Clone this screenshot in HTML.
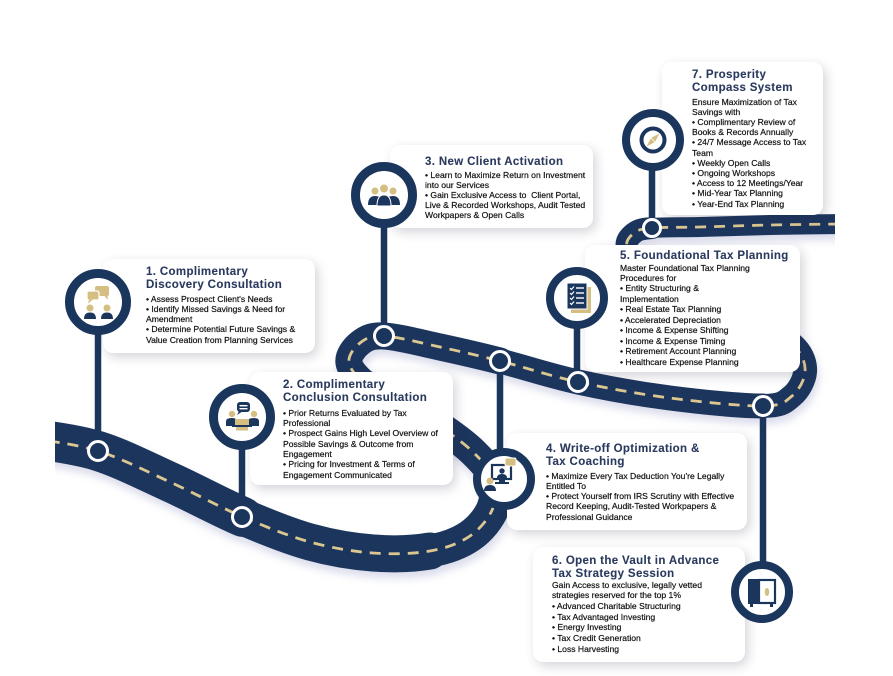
<!DOCTYPE html>
<html><head><meta charset="utf-8">
<style>
html,body{margin:0;padding:0;background:#fff;}
#wrap{position:relative;width:893px;height:676px;overflow:hidden;background:#fff;}
svg{position:absolute;left:0;top:0;}
.card{position:absolute;background:#fff;border-radius:10px;box-shadow:3px 4px 11px rgba(40,40,70,0.2);z-index:2;}
.t{position:absolute;font-family:"Liberation Sans",Arial,sans-serif;white-space:nowrap;z-index:2;}
.h{font-weight:bold;font-size:11.5px;letter-spacing:0.35px;color:#2a3a5e;line-height:12.8px;-webkit-text-stroke:0.1px #2a3a5e;}
.b{font-size:8.6px;color:#111;line-height:10.25px;-webkit-text-stroke:0.2px #111;}
</style></head>
<body><div id="wrap">

<svg width="893" height="676" style="z-index:1">
<defs>
<clipPath id="cl"><rect x="55" y="0" width="780" height="676"/></clipPath>
<filter id="sh" filterUnits="userSpaceOnUse" x="0" y="0" width="893" height="676">
<feDropShadow dx="2" dy="6" stdDeviation="4" flood-color="#8890c0" flood-opacity="0.3"/>
</filter>
</defs>
<g clip-path="url(#cl)">
<g filter="url(#sh)" fill="none" stroke="#1b365d" stroke-linecap="round">
<path stroke-width="40" d="M30,438 C41.3,440.2 74.7,443.7 98,451 C121.3,458.3 145.8,471 170,482 C194.2,493 219.7,507 243,517"/>
<path stroke-width="37" d="M243,517 C266.3,527 288.3,536 310,542 C331.7,548 353,551.5 373,553 C393,554.5 413.8,553.8 430,551"/>
<path stroke-width="33" d="M430,551 C446.2,548.2 459.5,543.2 470,536 C480.5,528.8 489.2,517.7 493,508 C496.8,498.3 496.2,487.2 493,478"/>
<path stroke-width="30" d="M493,478 C489.8,468.8 482,461 474,453 C466,445 456.5,438 445,430 C433.5,422 417.8,412.3 405,405 C392.2,397.7 377.3,393 368,386"/>
<path stroke-width="27" d="M368,386 C358.7,379 350.3,370.2 349,363 C347.7,355.8 354.2,347.5 360,343 C365.8,338.5 370.7,335.3 384,336 C397.3,336.7 420.7,342.8 440,347 C459.3,351.2 477,355.2 500,361"/>
<path stroke-width="25" d="M500,361 C523,366.8 549.7,375.8 578,382 C606.3,388.2 639.2,394 670,398 C700.8,402 742.7,406.3 763,406"/>
<path stroke-width="24" d="M763,406 C783.3,405.7 785,401.7 792,396 C799,390.3 804.3,380 805,372 C805.7,364 802.7,355.3 796,348 C789.3,340.7 781,336 765,328"/>
<path stroke-width="22" d="M765,328 C749,320 720,310 700,300 C680,290 657.2,276.8 645,268 C632.8,259.2 628.8,252.8 627,247 C625.2,241.2 629.8,236.2 634,233 C638.2,229.8 641,229 652,228"/>
<path stroke-width="20" d="M652,228 C663,227 680.3,227.5 700,227 C719.7,226.5 745,225.5 770,225 C795,224.5 836.7,224 850,224"/>
</g>
<path fill="none" stroke="#dcc791" stroke-width="2.8" stroke-dasharray="11 8" d="M30,438 C41.3,440.2 74.7,443.7 98,451 C121.3,458.3 145.8,471 170,482 C194.2,493 219.7,507 243,517 C266.3,527 288.3,536 310,542 C331.7,548 353,551.5 373,553 C393,554.5 413.8,553.8 430,551 C446.2,548.2 459.5,543.2 470,536 C480.5,528.8 489.2,517.7 493,508 C496.8,498.3 496.2,487.2 493,478 C489.8,468.8 482,461 474,453 C466,445 456.5,438 445,430 C433.5,422 417.8,412.3 405,405 C392.2,397.7 377.3,393 368,386 C358.7,379 350.3,370.2 349,363 C347.7,355.8 354.2,347.5 360,343 C365.8,338.5 370.7,335.3 384,336 C397.3,336.7 420.7,342.8 440,347 C459.3,351.2 477,355.2 500,361 C523,366.8 549.7,375.8 578,382 C606.3,388.2 639.2,394 670,398 C700.8,402 742.7,406.3 763,406 C783.3,405.7 785,401.7 792,396 C799,390.3 804.3,380 805,372 C805.7,364 802.7,355.3 796,348 C789.3,340.7 781,336 765,328 C749,320 720,310 700,300 C680,290 657.2,276.8 645,268 C632.8,259.2 628.8,252.8 627,247 C625.2,241.2 629.8,236.2 634,233 C638.2,229.8 641,229 652,228 C663,227 680.3,227.5 700,227 C719.7,226.5 745,225.5 770,225 C795,224.5 836.7,224 850,224"/>
</g>
<g stroke="#1b365d" stroke-width="6.5">
<line x1="98" y1="330" x2="98" y2="451"/>
<line x1="242" y1="445" x2="242" y2="517"/>
<line x1="384" y1="222" x2="384" y2="336"/>
<line x1="500" y1="361" x2="500" y2="452"/>
<line x1="577" y1="325" x2="577" y2="382"/>
<line x1="763" y1="406" x2="763" y2="565"/>
<line x1="652" y1="166" x2="652" y2="228"/>
</g>
<g fill="#1b365d" stroke="#fff" stroke-width="3">
<circle cx="98" cy="451" r="9.5"/>
<circle cx="242" cy="517" r="9.5"/>
<circle cx="384" cy="336" r="9.5"/>
<circle cx="500" cy="361" r="9.5"/>
<circle cx="578" cy="382" r="9.5"/>
<circle cx="763" cy="406" r="9.5"/>
<circle cx="652" cy="228" r="8.5"/>
</g>
</svg>

<!-- Cards -->
<div class="card" style="left:103px;top:259px;width:212px;height:94px"></div>
<div class="t h" style="left:146px;top:266px">1. Complimentary<br>Discovery Consultation</div>
<div class="t b" style="left:146px;top:293.6px">• Assess Prospect Client's Needs<br>• Identify Missed Savings &amp; Need for<br>Amendment<br>• Determine Potential Future Savings &amp;<br>Value Creation from Planning Services</div>

<div class="card" style="left:250px;top:372px;width:203px;height:113px"></div>
<div class="t h" style="left:283px;top:379px;line-height:13px">2. Complimentary<br>Conclusion Consultation</div>
<div class="t b" style="left:283px;top:407.6px;line-height:10.33px">• Prior Returns Evaluated by Tax<br>Professional<br>• Prospect Gains High Level Overview of<br>Possible Savings &amp; Outcome from<br>Engagement<br>• Pricing for Investment &amp; Terms of<br>Engagement Communicated</div>

<div class="card" style="left:390px;top:145px;width:203px;height:83px"></div>
<div class="t h" style="left:425px;top:156px">3. New Client Activation</div>
<div class="t b" style="left:425px;top:169.6px;line-height:10px">• Learn to Maximize Return on Investment<br>into our Services<br>• Gain Exclusive Access to&nbsp; Client Portal,<br>Live &amp; Recorded Workshops, Audit Tested<br>Workpapers &amp; Open Calls</div>

<div class="card" style="left:662px;top:62px;width:161px;height:153px"></div>
<div class="t h" style="left:692px;top:69px;line-height:13px">7. Prosperity<br>Compass System</div>
<div class="t b" style="left:692px;top:96.6px;line-height:10.2px">Ensure Maximization of Tax<br>Savings with<br>• Complimentary Review of<br>Books &amp; Records Annually<br>• 24/7 Message Access to Tax<br>Team<br>• Weekly Open Calls<br>• Ongoing Workshops<br>• Access to 12 Meetings/Year<br>• Mid-Year Tax Planning<br>• Year-End Tax Planning</div>

<div class="card" style="left:585px;top:245px;width:215px;height:127px"></div>
<div class="t h" style="left:620px;top:250px">5. Foundational Tax Planning</div>
<div class="t b" style="left:620px;top:262.6px;line-height:10.44px">Master Foundational Tax Planning<br>Procedures for<br>• Entity Structuring &amp;<br>Implementation<br>• Real Estate Tax Planning<br>• Accelerated Depreciation<br>• Income &amp; Expense Shifting<br>• Income &amp; Expense Timing<br>• Retirement Account Planning<br>• Healthcare Expense Planning</div>

<div class="card" style="left:507px;top:433px;width:240px;height:97px"></div>
<div class="t h" style="left:546px;top:443px;line-height:13px">4. Write-off Optimization &amp;<br>Tax Coaching</div>
<div class="t b" style="left:546px;top:470.6px">• Maximize Every Tax Deduction You're Legally<br>Entitled To<br>• Protect Yourself from IRS Scrutiny with Effective<br>Record Keeping, Audit-Tested Workpapers &amp;<br>Professional Guidance</div>

<div class="card" style="left:533px;top:547px;width:212px;height:115px"></div>
<div class="t h" style="left:552px;top:555px;line-height:12.5px">6. Open the Vault in Advance<br>Tax Strategy Session</div>
<div class="t b" style="left:552px;top:579.6px;line-height:10.67px">Gain Access to exclusive, legally vetted<br>strategies reserved for the top 1%<br>• Advanced Charitable Structuring<br>• Tax Advantaged Investing<br>• Energy Investing<br>• Tax Credit Generation<br>• Loss Harvesting</div>

<!-- Icon circles -->
<svg width="893" height="676" style="z-index:3;pointer-events:none">
<g fill="#fff" stroke="#1b365d" stroke-width="9">
<circle cx="98" cy="302" r="28.5"/>
<circle cx="242" cy="417" r="28.5"/>
<circle cx="384" cy="195" r="28.5"/>
</g>
<g fill="#fff" stroke="#1b365d" stroke-width="8">
<circle cx="504" cy="479" r="27"/>
<circle cx="577" cy="298" r="27"/>
<circle cx="762" cy="592" r="27"/>
<circle cx="653" cy="140" r="27"/>
</g>

<!-- icon 1 -->
<g transform="translate(98,302)">
<rect x="-3" y="-16" width="14" height="10" rx="2" fill="#d4be82"/>
<path d="M6,-6.5 L10,-2 L9.5,-6.5Z" fill="#d4be82"/>
<rect x="-11" y="-11" width="12" height="9" rx="2" fill="#d4be82" stroke="#fff" stroke-width="1.2"/>
<path d="M-9,-2.5 L-10,1.5 L-5,-2.5Z" fill="#d4be82"/>
<circle cx="-8" cy="6" r="3.5" fill="#d4be82"/>
<circle cx="9" cy="6" r="3.5" fill="#d4be82"/>
<path d="M-14,17 Q-14,10.5 -8,10.5 Q-2,10.5 -2,17Z" fill="#1b365d"/>
<path d="M3,17 Q3,10.5 9,10.5 Q15,10.5 15,17Z" fill="#1b365d"/>
</g>

<!-- icon 2 -->
<g transform="translate(242,417)">
<rect x="-5" y="-15" width="13" height="10" rx="3" fill="#1b365d"/>
<path d="M-3,-6 L-5,-2 L1,-6Z" fill="#1b365d"/>
<rect x="-2.5" y="-12" width="8" height="1.4" fill="#fff"/>
<rect x="-2.5" y="-9" width="8" height="1.4" fill="#fff"/>
<circle cx="-10" cy="-3" r="3.2" fill="#d4be82"/>
<circle cx="12" cy="-3" r="3.2" fill="#d4be82"/>
<path d="M-16,9 L-16,4 Q-16,1 -10,1 Q-5,1 -5,4 L-5,9Z" fill="#1b365d"/>
<path d="M6,9 L6,4 Q6,1 12,1 Q17,1 17,4 L17,9Z" fill="#1b365d"/>
<rect x="-7" y="2" width="14" height="6" fill="#d4be82"/>
<rect x="-10" y="8" width="20" height="2" fill="#1b365d"/>
<rect x="-6" y="10" width="12" height="3.5" fill="#d4be82"/>
</g>

<!-- icon 3 -->
<g transform="translate(384,195)">
<path d="M-16,10 Q-16,1 -9,1 Q-4,1 -3,4 L-3,10Z" fill="#1b365d"/>
<path d="M16,10 Q16,1 9,1 Q4,1 3,4 L3,10Z" fill="#1b365d"/>
<circle cx="-9" cy="-4" r="3.5" fill="#d4be82"/>
<circle cx="9" cy="-4" r="3.5" fill="#d4be82"/>
<path d="M-7,11 Q-7,0 0,0 Q7,0 7,11Z" fill="#1b365d" stroke="#fff" stroke-width="1"/>
<circle cx="0" cy="-6.5" r="4.5" fill="#d4be82" stroke="#fff" stroke-width="1"/>
</g>

<!-- icon 4 -->
<g transform="translate(504,479)">
<rect x="-12" y="-14" width="19" height="14" fill="none" stroke="#1b365d" stroke-width="2.2"/>
<circle cx="-2" cy="-8" r="2.7" fill="#1b365d"/>
<path d="M-7,-1 Q-7,-5 -2,-5 Q3,-5 3,-1Z" fill="#1b365d"/>
<rect x="-5" y="0" width="6" height="3" fill="#1b365d"/>
<rect x="-9" y="3" width="14" height="2" fill="#1b365d"/>
<rect x="1" y="-21" width="11" height="8" rx="1.5" fill="#d4be82" stroke="#fff" stroke-width="1"/>
<circle cx="-14" cy="2" r="3.5" fill="#d4be82"/>
<path d="M-20,12 Q-20,6 -14,6 Q-8,6 -8,12Z" fill="#1b365d"/>
</g>

<!-- icon 5 -->
<g transform="translate(577,298)">
<rect x="-6" y="-11" width="20" height="26" fill="#d4be82"/>
<rect x="-10" y="-15" width="20" height="26" fill="#1b365d" stroke="#fff" stroke-width="1"/>
<g stroke="#fff" stroke-width="1.2" fill="none">
<path d="M-7,-10 L-5.5,-8.5 L-3,-11.5"/>
<path d="M-7,-5 L-5.5,-3.5 L-3,-6.5"/>
<path d="M-7,0 L-5.5,1.5 L-3,-1.5"/>
<path d="M-7,5 L-5.5,6.5 L-3,3.5"/>
</g>
<g fill="#fff">
<rect x="-1" y="-10.7" width="8" height="1.4"/>
<rect x="-1" y="-5.7" width="8" height="1.4"/>
<rect x="-1" y="-0.7" width="8" height="1.4"/>
<rect x="-1" y="4.3" width="8" height="1.4"/>
</g>
</g>

<!-- icon 6 -->
<g transform="translate(762,592)">
<rect x="-14" y="-13" width="11" height="25" fill="#1b365d"/>
<rect x="-3" y="-12" width="16" height="23" fill="none" stroke="#1b365d" stroke-width="2.2"/>
<ellipse cx="5" cy="0" rx="2.2" ry="4" fill="#d4be82"/>
<rect x="-12" y="12" width="3" height="3" fill="#1b365d"/>
<rect x="8" y="12" width="3" height="3" fill="#1b365d"/>
</g>

<!-- icon 7 -->
<g transform="translate(653,140)">
<circle r="11.5" fill="none" stroke="#1b365d" stroke-width="4"/>
<polygon points="6.5,-6.5 2,2 -6.5,6.5 -2,-2" fill="#d4be82"/>
<line x1="2" y1="2" x2="-2" y2="-2" stroke="#fff" stroke-width="0.8"/>
</g>
</svg>

</div></body></html>
